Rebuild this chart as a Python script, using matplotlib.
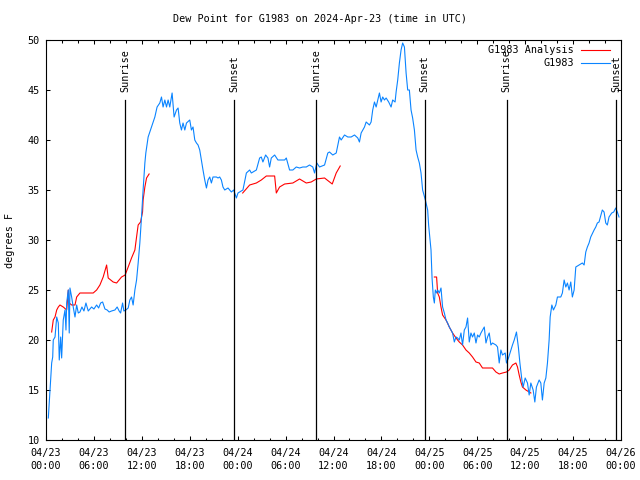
import numpy as np
import matplotlib
matplotlib.use('Agg')
import matplotlib.pyplot as plt

nan = np.nan

# hours since 2024-04-23 00:00 UTC, dew point in deg F
obs_hours = [0.29, 0.5, 0.71, 0.84, 0.91, 1.13, 1.34, 1.54, 1.66, 1.84, 1.96, 2.16, 2.38, 2.5, 2.59,
             2.79, 2.91, 3.0, 3.21, 3.41, 3.63, 3.84, 4.04, 4.25, 4.5, 4.75, 5.0, 5.29, 5.71, 6.0,
             6.34, 6.59, 6.84, 7.09, 7.38, 7.66, 7.91, 8.21, 8.63, 8.91, 9.16, 9.34, 9.59, 9.75, 10.0,
             10.29, 10.5, 10.71, 10.91, 11.13, 11.34, 11.54, 11.75, 11.96, 12.16, 12.38, 12.5, 12.79,
             13.21, 13.63, 13.91, 14.25, 14.46, 14.66, 14.88, 15.09, 15.29, 15.5, 15.79, 16.04, 16.34,
             16.54, 16.75, 16.96, 17.16, 17.38, 17.59, 18.0, 18.21, 18.41, 18.63, 18.84, 19.04, 19.25,
             19.66, 19.88, 20.09, 20.29, 20.5, 20.71, 20.91, 21.34, 21.54, 21.75, 21.96, 22.16, 22.38,
             22.79, 23.21, 23.5, 23.84, 24.04, 24.25, 24.66, 25.09, 25.5, 25.71, 26.34, 26.75, 26.96,
             27.16, 27.5, 27.79, 28.0, 28.21, 28.63, 29.04, 29.88, 30.09, 30.5, 30.91, 31.34, 31.75,
             32.16, 32.59, 33.0, 33.41, 33.63, 33.91, 34.25, 34.88, 35.29, 35.5, 35.91, 36.34, 36.75,
             36.96, 37.38, 37.79, 38.21, 38.63, 39.04, 39.25, 39.46, 39.88, 40.09, 40.5, 40.71, 40.91,
             41.13, 41.34, 41.75, 41.96, 42.16, 42.38, 42.59, 42.91, 43.21, 43.41, 43.71, 43.84, 44.04,
             44.25, 44.46, 44.66, 44.88, 45.09, 45.29, 45.5, 45.71, 45.91, 46.13, 46.34, 46.54, 46.75,
             46.96, 47.16, 47.5, 47.79, 47.91, 48.21, 48.34, 48.5, 48.63, 48.75, 48.91, 49.04, 49.25,
             49.46, 49.66, 49.88, 50.09, 50.29, 50.5, 50.71, 50.91, 51.13, 51.34, 51.54, 51.75, 51.96,
             52.16, 52.38, 52.59, 52.79, 53.0, 53.21, 53.41, 53.63, 53.84, 54.04, 54.25, 54.46, 54.88,
             55.09, 55.29, 55.5, 55.71, 55.91, 56.34, 56.54, 56.75, 56.96, 57.16, 57.5, 57.66, 57.91,
             58.21, 58.41, 58.63, 58.91, 59.16, 59.34, 59.59, 59.75, 60.0, 60.29, 60.5, 60.71, 61.0,
             61.21, 61.41, 61.75, 61.96, 62.16, 62.38, 62.59, 62.79, 63.0, 63.13, 63.34, 63.54, 63.84,
             64.04, 64.46, 64.66, 64.88, 65.09, 65.29, 65.5, 65.71, 65.91, 66.13, 66.34, 66.75, 67.16,
             67.38, 67.59, 67.79, 68.0, 68.21, 68.63, 68.84, 69.04, 69.25, 69.66, 69.88, 70.09, 70.29,
             70.5, 70.84, 71.09, 71.34, 71.54, 71.75]
obs_dewpt = [12.2, 15.0, 17.7, 18.3, 20.0, 20.3, 22.3, 21.7, 18.0, 20.3, 18.2, 22.0, 23.0, 21.0, 23.7,
             25.0, 20.7, 25.2, 24.3, 23.3, 22.3, 23.5, 22.7, 22.8, 23.3, 22.9, 23.7, 22.9, 23.3, 23.1,
             23.5, 23.2, 23.7, 23.8, 23.1, 23.0, 22.8, 22.9, 23.0, 23.3, 22.9, 22.7, 23.7, 22.9, 23.0,
             23.2, 24.0, 24.3, 23.5, 25.0, 26.0, 27.7, 29.7, 32.3, 35.0, 37.7, 38.7, 40.3,
             41.3, 42.3, 43.3, 43.7, 44.3, 43.3, 44.0, 43.3, 44.0, 43.3, 44.7, 42.3, 43.0,
             43.2, 41.7, 41.0, 41.7, 41.0, 41.7, 42.0, 41.0, 41.3, 40.0, 39.7, 39.5, 39.0,
             37.0, 36.0, 35.2, 36.0, 36.3, 35.7, 36.3, 36.3, 36.2, 36.3, 36.0, 35.3, 35.0,
             35.2, 34.8, 35.0, 34.2, 34.7, 34.8, 35.0, 36.7, 37.0, 36.7, 37.0, 38.2, 38.3,
             37.8, 38.5, 38.2, 37.3, 38.2, 38.5, 38.0, 38.0, 38.2, 37.0, 37.0, 37.3, 37.2,
             37.3, 37.3, 37.5, 37.3, 36.7, 37.7, 37.3, 37.5, 38.7, 38.8, 38.5, 38.7, 40.3,
             40.0, 40.5, 40.3, 40.3, 40.5, 40.2, 39.8, 40.7, 41.3, 41.8, 41.5, 41.8, 43.0,
             43.8, 43.3, 44.7, 43.8, 44.3, 44.0, 44.2, 43.8, 43.3, 44.0, 43.8, 44.8, 46.0,
             47.7, 49.0, 49.7, 49.3, 46.7, 45.0, 45.0, 43.0, 42.2, 41.0, 39.0, 38.3, 37.7,
             36.7, 35.0, 34.0, 33.0, 31.5, 29.0, 26.2, 24.3, 23.7, 25.0, 24.7, 25.0, 24.7,
             25.2, 23.3, 22.7, 22.0, 21.7, 21.3, 21.0, 20.7, 19.8, 20.3, 20.2, 20.0, 20.7,
             19.5, 21.0, 21.3, 22.2, 19.8, 20.7, 20.3, 20.7, 19.7, 20.5, 20.3, 20.7, 21.3,
             19.7, 20.3, 20.7, 19.5, 19.7, 19.5, 19.3, 17.7, 19.0, 18.5, 18.7, 17.7, 18.2,
             19.0, 19.5, 20.0, 20.8, 19.2, 17.7, 16.0, 15.3, 16.2, 15.7, 14.5, 15.7, 15.0,
             13.8, 15.3, 16.0, 15.7, 14.0, 15.7, 16.2, 17.7, 20.0, 22.3, 23.5, 23.0, 23.5,
             24.3, 24.3, 24.7, 26.0, 25.3, 25.7, 25.0, 25.8, 24.3, 25.0, 27.3, 27.5, 27.7,
             27.5, 28.8, 29.3, 29.7, 30.3, 31.0, 31.3, 31.7, 31.8, 33.0, 32.8, 31.7, 31.5,
             32.3, 32.7, 32.8, 33.2, 32.8, 32.3]

ana_hours = [0.71, 0.91, 1.13, 1.34, 1.54, 1.75, 2.16, 2.59, 2.79, 2.91, 3.21, 3.63, 3.84, 4.25, 5.09,
             5.91, 6.34, 6.75, 7.16, 7.59, 7.79, 8.41, 8.84, 9.46, 9.91, 10.29, 10.71, 11.13, 11.34,
             11.54, 11.84, 12.09, 12.16, 12.38, 12.59, 12.91, 18.0,
             24.63, 25.5, 26.34, 26.96, 27.59, 28.63, 28.84, 29.25, 29.88, 30.91, 31.75, 32.59, 33.21,
             33.84, 34.88, 35.84, 36.34, 36.84, 42.0,
             48.63, 48.91, 49.04, 49.25, 49.46, 49.66, 50.09, 50.5, 50.91, 51.34, 51.75, 52.16, 52.59,
             53.0, 53.41, 53.84, 54.25, 54.66, 55.91, 56.34, 56.75, 57.16, 57.66, 58.0, 58.41, 58.84,
             59.04, 59.25, 59.46, 59.66, 60.09, 60.71]
ana_dewpt = [20.8, 22.0, 22.3, 23.0, 23.3, 23.5, 23.3, 23.0, 25.0, 23.7, 23.5, 23.5, 24.3, 24.7, 24.7,
             24.7, 25.0, 25.5, 26.3, 27.5, 26.2, 25.8, 25.7, 26.3, 26.5, 27.3, 28.2, 29.0, 30.3,
             31.5, 31.8, 32.8, 34.0, 35.3, 36.2, 36.6, nan,
             34.7, 35.5, 35.7, 36.0, 36.4, 36.4, 34.7, 35.3, 35.6, 35.7, 36.1, 35.7, 35.8,
             36.1, 36.2, 35.6, 36.7, 37.4, nan,
             26.3, 26.3, 24.7, 24.3, 23.3, 22.5, 22.0, 21.3, 20.7, 20.2, 19.8, 19.5, 19.0,
             18.7, 18.3, 17.8, 17.7, 17.2, 17.2, 16.8, 16.6, 16.7, 16.8, 17.0, 17.5, 17.7,
             17.3, 16.5, 15.8, 15.3, 15.0, 14.7]

sun_hours = [9.91, 23.54, 33.83, 47.42, 57.67, 71.42]
sun_labels = ['Sunrise', 'Sunset', 'Sunrise', 'Sunset', 'Sunrise', 'Sunset']

tick_hours = list(range(0, 73, 6))
tick_labels = ['04/23\n00:00', '04/23\n06:00', '04/23\n12:00', '04/23\n18:00',
               '04/24\n00:00', '04/24\n06:00', '04/24\n12:00', '04/24\n18:00',
               '04/25\n00:00', '04/25\n06:00', '04/25\n12:00', '04/25\n18:00',
               '04/26\n00:00']

plt.rcParams['font.family'] = ['DejaVu Sans Mono']
plt.rcParams['font.size'] = 7.3

red = '#ff0000'
blue = '#0a84ff'

fig = plt.figure(figsize=(6.4, 4.8), dpi=100)
ax = fig.add_axes([46 / 640, 40 / 480, 575 / 640, 400 / 480])

ax.plot(ana_hours, ana_dewpt, color=red, lw=0.8)
ax.plot(obs_hours, obs_dewpt, color=blue, lw=0.8)

for h, lab in zip(sun_hours, sun_labels):
    ax.plot([h, h], [10, 44], color='black', lw=0.9)
    ax.text(h, 44.8, lab, rotation=90, ha='center', va='bottom')

ax.set_xlim(0, 72)
ax.set_ylim(10, 50)
ax.set_xticks(tick_hours)
ax.set_xticklabels(tick_labels, linespacing=1.4)
ax.set_xticks(range(0, 73, 2), minor=True)
ax.set_yticks(range(10, 51, 5))
ax.tick_params(which='both', direction='in', top=True, right=True, width=0.75)
ax.tick_params(which='major', length=3.2)
ax.tick_params(which='minor', length=1.8)
ax.tick_params(axis='x', pad=5.5)
ax.tick_params(axis='y', pad=4.5)
for s in ax.spines.values():
    s.set_linewidth(0.8)

ax.set_ylabel('degrees F', labelpad=9)
fig.suptitle('Dew Point for G1983 on 2024-Apr-23 (time in UTC)', y=0.97, fontsize=7.3)

# legend, gnuplot style (text right-aligned, line sample on the right)
leg_rows = [('G1983 Analysis', red, 0.975), ('G1983', blue, 0.9425)]
for lab, col, yy in leg_rows:
    ax.text(0.918, yy, lab, transform=ax.transAxes, ha='right', va='center')
    ax.plot([0.930, 0.981], [yy, yy], transform=ax.transAxes, color=col, lw=0.8)

fig.savefig('out.png', dpi=100)
